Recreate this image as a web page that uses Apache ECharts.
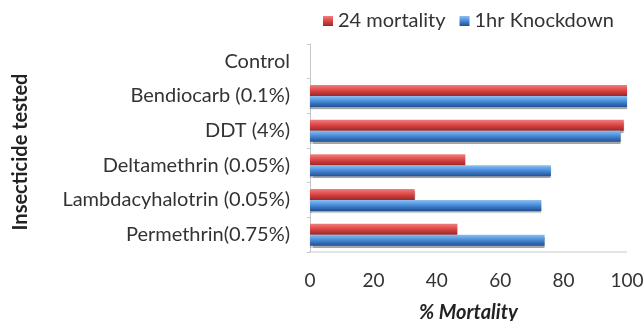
<!DOCTYPE html>
<html>
<head>
<meta charset="utf-8">
<script src="https://cdn.jsdelivr.net/npm/echarts@6/dist/echarts.min.js"></script>
<style>
  html, body { margin: 0; padding: 0; background: #fff; }
  #chart { width: 643px; height: 321px; }
</style>
</head>
<body>
<div id="chart"></div>
<script>
// Insecticides, listed bottom-to-top along the category axis
const insecticides = [
  'Permethrin(0.75%)',
  'Lambdacyhalotrin (0.05%)',
  'Deltamethrin (0.05%)',
  'DDT (4%)',
  'Bendiocarb (0.1%)',
  'Control'
];
const mortality24h = [46.5, 33, 49, 99, 100, 0];
const knockdown1h = [74, 73, 76, 98, 100, 0];
const mortalityTicks = [0, 20, 40, 60, 80, 100];

const FONT = 'Lato, "Open Sans", sans-serif';

function barFill(top, mid, bottom) {
  return new echarts.graphic.LinearGradient(0, 0, 0, 1, [
    { offset: 0, color: top },
    { offset: 0.45, color: mid },
    { offset: 1, color: bottom }
  ]);
}

const chart = echarts.init(document.getElementById('chart'), null, { renderer: 'canvas' });
chart.setOption({
  animation: false,
  backgroundColor: '#fff',
  legend: {
    top: 6,
    left: 318,
    itemWidth: 10,
    itemHeight: 10,
    itemGap: 14,
    textStyle: { fontFamily: FONT, fontSize: 20, color: '#333' },
    data: [
      { name: '24 mortality', icon: 'rect' },
      { name: '1hr Knockdown', icon: 'rect' }
    ]
  },
  grid: {
    left: 310, right: 16, top: 44, bottom: 69,
    containLabel: false,
    outerBoundsMode: 'none'
  },
  xAxis: {
    type: 'value',
    min: 0,
    max: 100,
    interval: 20,
    name: '% Mortality',
    nameLocation: 'middle',
    nameGap: 51,
    nameMoveOverlap: false,
    nameTextStyle: { fontFamily: FONT, fontSize: 20, fontWeight: 'bold', fontStyle: 'italic', color: '#222' },
    axisLine: { show: false },
    axisTick: { show: false },
    splitLine: { show: false },
    axisLabel: {
      fontFamily: FONT, fontSize: 19, color: '#333', margin: 19,
      formatter: v => mortalityTicks.includes(v) ? String(v) : ''
    }
  },
  yAxis: {
    type: 'category',
    data: insecticides,
    name: 'Insecticide tested',
    nameLocation: 'middle',
    nameRotate: 90,
    nameGap: 279,
    nameMoveOverlap: false,
    nameTextStyle: { fontFamily: FONT, fontSize: 20, fontWeight: 'bold', color: '#222', padding: [0, 8, 0, 0] },
    axisLine: { show: true, lineStyle: { color: '#c8c8c8', width: 1 } },
    axisTick: { show: true, alignWithLabel: false, length: 3, lineStyle: { color: '#c8c8c8' } },
    axisLabel: { fontFamily: FONT, fontSize: 20, color: '#333', margin: 20 }
  },
  series: [
    {
      name: '24 mortality',
      type: 'bar',
      data: mortality24h,
      barWidth: 11,
      barGap: '0%',
      barCategoryGap: '36%',
      itemStyle: {
        color: barFill('#f08080', '#e04848', '#9c2626'),
        shadowColor: 'rgba(90,90,90,0.55)',
        shadowOffsetY: 2,
        shadowBlur: 1
      }
    },
    {
      name: '1hr Knockdown',
      type: 'bar',
      data: knockdown1h,
      barWidth: 11,
      barGap: '0%',
      itemStyle: {
        color: barFill('#8cc0f0', '#4a8edc', '#214f92'),
        shadowColor: 'rgba(90,90,90,0.55)',
        shadowOffsetY: 2,
        shadowBlur: 1
      }
    }
  ],
  graphic: [
    {
      type: 'line',
      shape: { x1: 309, y1: 252, x2: 627, y2: 252 },
      style: { stroke: '#c8c8c8', lineWidth: 1 }
    }
  ]
});
</script>
</body>
</html>
